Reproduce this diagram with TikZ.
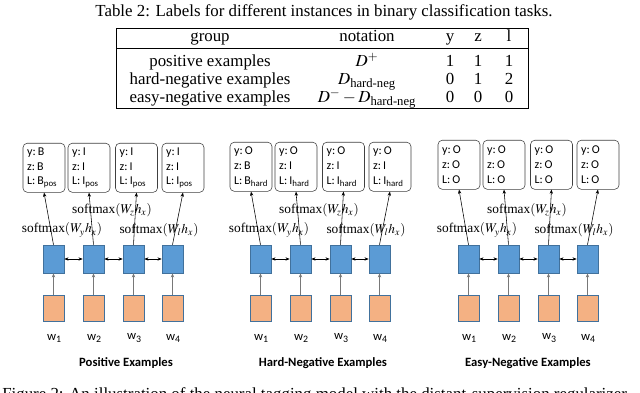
\documentclass[tikz,border=0pt]{standalone}
\usepackage{amsmath}
\usepackage{mathptmx}
\usepackage{fontspec}
\setmainfont{Liberation Serif}
\setsansfont{Carlito}
\usepackage{tikz}
\usetikzlibrary{arrows.meta}
\definecolor{TagBlue}{RGB}{91,155,213}
\definecolor{TagEdge}{RGB}{65,113,156}
\definecolor{TagOrange}{RGB}{244,177,131}
\definecolor{TagGray}{RGB}{120,120,120}

\begin{document}
\begin{tikzpicture}[x=0.025cm, y=-0.025cm,
      capt/.style={font=\fontsize{12}{14}\selectfont, inner sep=0pt},
      cell/.style={font=\fontsize{12}{14}\selectfont, inner sep=0pt,
                   text height=8pt, text depth=2pt},
      obox/.style={draw=black!75, rounded corners=3pt, anchor=north,
                   minimum width=1.05cm, minimum height=1.225cm,
                   text width=0.84cm, inner sep=0pt, align=left,
                   font=\sffamily\fontsize{8.5}{10.5}\selectfont},
      hbox/.style={draw=TagEdge, fill=TagBlue, minimum width=0.525cm,
                   minimum height=0.7cm, inner sep=0pt},
      wbox/.style={draw=TagEdge, fill=TagOrange, minimum width=0.525cm,
                   minimum height=0.65cm, inner sep=0pt},
      smax/.style={font=\fontsize{9.5}{11}\selectfont, inner sep=0pt},
      wlab/.style={font=\sffamily\fontsize{9}{11}\selectfont, inner sep=0pt},
      ttl/.style={font=\sffamily\bfseries\fontsize{9}{11}\selectfont, inner sep=0pt},
      arr/.style={-{Stealth[length=3pt, width=2.4pt]}, thin},
      uparr/.style={-{Stealth[length=3pt, width=2.4pt]}, draw=TagGray, thin},
      harr/.style={{Stealth[length=3pt, width=2.4pt]}-{Stealth[length=3pt, width=2.4pt]}, thin}
    ]
    \useasboundingbox (0,0) rectangle (640,393);

    % table
    \node[capt] (tcap) at (324,12)
          {Table 2: Labels for different instances in binary classification tasks.};
    \draw[thin] (116,28) rectangle (528,108);
    \draw[thin] (116,48) -- (528,48);
    \node[cell] (hg) at (210,37) {group};
    \node[cell] (hn) at (367,37) {notation};
    \node[cell] (hy) at (450,37) {y};
    \node[cell] (hz) at (478,37) {z};
    \node[cell] (hl) at (509,37) {l};
    \foreach \g/\n/\a/\b/\c [count=\r] in {
        positive examples/{$D^{+}$}/1/1/1,
        hard-negative examples/{$D_{\text{hard-neg}}$}/0/1/2,
        easy-negative examples/{$D^{-}-D_{\text{hard-neg}}$}/0/0/0}{
      \node[cell] (g\r) at (210,44+18*\r) {\g};
      \node[cell] (n\r) at (367,44+18*\r) {\n};
      \node[cell] (y\r) at (450,44+18*\r) {\a};
      \node[cell] (z\r) at (478,44+18*\r) {\b};
      \node[cell] (l\r) at (509,44+18*\r) {\c};
    }

    % three tagging panels
    \foreach \p/\dx/\oy/\name/\tx/\ya/\za/\la/\yb/\zb/\lb in {
        pos/0/143/Positive Examples/126/B/B/{B\textsubscript{pos}}/I/I/{I\textsubscript{pos}},
        hard/207/142/Hard-Negative Examples/116/O/B/{B\textsubscript{hard}}/O/I/{I\textsubscript{hard}},
        easy/415/140/Easy-Negative Examples/113/O/O/O/O/O/O}{
      \node[obox] (\p-o1) at (\dx+44,\oy) {y:\,\ya\\z:\,\za\\L:\,\la};
      \foreach \i/\ox in {2/89, 3/136.5, 4/183}
        \node[obox] (\p-o\i) at (\dx+\ox,\oy) {y:\,\yb\\z:\,\zb\\L:\,\lb};

      \foreach \i/\hx in {1/53.5, 2/93.5, 3/133.5, 4/172.5}{
        \node[hbox] (\p-h\i) at (\dx+\hx,259) {};
        \node[wbox] (\p-w\i) at (\dx+\hx,308) {};
        \node[wlab] (\p-l\i) at (\dx+\hx+1,338) {w\textsubscript{\i}};
        \draw[uparr] (\p-w\i) -- (\p-h\i);
        \draw[arr] (\p-h\i.north) -- (\p-o\i.south);
      }
      \foreach \i/\j in {1/2, 2/3, 3/4}
        \draw[harr] (\p-h\i) -- (\p-h\j);

      \node[smax] (\p-sz) at (\dx+112,210) {softmax$(W_z h_x)$};
      \node[smax] (\p-sy) at (\dx+62,230)  {softmax$(W_y h_x)$};
      \node[smax] (\p-sl) at (\dx+159,230) {softmax$(W_l h_x)$};
      \node[ttl] (\p-t) at (\dx+\tx,363) {\name};
    }

    \node[capt, anchor=base west] (fcap) at (2,400)
          {Figure 2: An illustration of the neural tagging model with the distant-supervision regularizer};
  \end{tikzpicture}
\end{document}
